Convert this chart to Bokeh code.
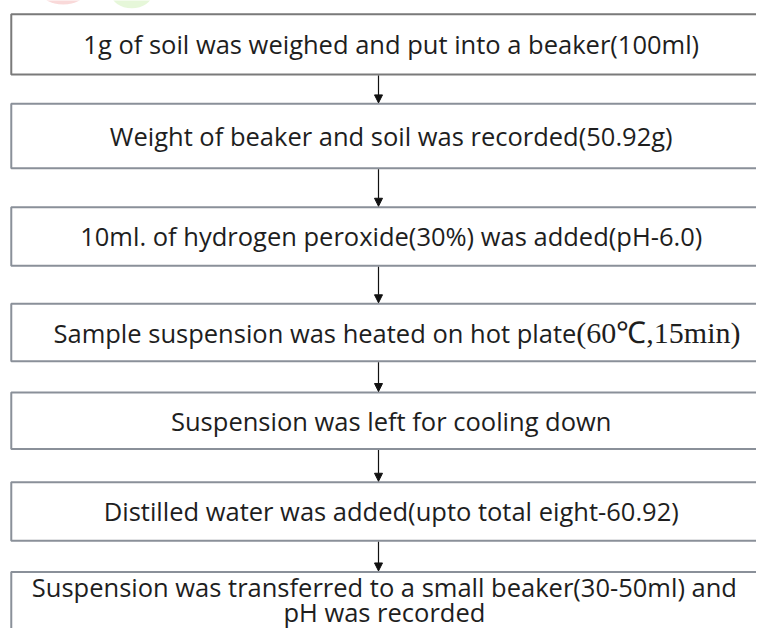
from bokeh.plotting import figure
from bokeh.models import Range1d, Arrow, NormalHead, ColumnDataSource
from bokeh.core.properties import value
from bokeh.embed import file_html
from bokeh.resources import INLINE

# ---- data: the steps of the procedure ----
steps = [
    "1g of soil was weighed and put into a beaker(100ml)",
    "Weight of beaker and soil was recorded(50.92g)",
    "10ml. of hydrogen peroxide(30%) was added(pH-6.0)",
    "Sample suspension was heated on hot plate",
    "Suspension was left for cooling down",
    "Distilled water was added(upto total eight-60.92)",
    "Suspension was transferred to a small beaker(30-50ml) and",
]
step4_suffix = "(60\u2103,15min)"
step7_line2 = "pH was recorded"

# ---- layout (reference pixel space) ----
W, H = 772, 644
box_left, box_right = 11, 800
box_top = [14, 106, 212, 311, 402, 494, 586]
box_bot = [76, 172, 272, 370, 460, 554, 680]
box_col = ["#7a7a7a", "#8a9099", "#8a9099", "#8a9099", "#8a9099", "#8a9099", "#8a9099"]
arrow_x = 386

p = figure(width=756, height=628, output_backend="svg", toolbar_location=None,
           x_range=Range1d(0, W), y_range=Range1d(H, 0), min_border=0)
p.axis.visible = False
p.grid.visible = False
p.outline_line_color = None
p.background_fill_color = "white"
p.border_fill_color = "white"

# faint watermark remnants at the top
p.ellipse(x=[64, 134], y=[-9, -7], width=[46, 42], height=[26, 30],
          fill_color=["#f8d0d0", "#e0f5cf"], fill_alpha=0.8, line_color=None)

src = ColumnDataSource(dict(left=[box_left] * len(steps), right=[box_right] * len(steps),
                            top=box_top, bottom=box_bot, col=box_col))
p.quad(left="left", right="right", top="top", bottom="bottom", source=src,
       fill_color="white", line_color="col", line_width=2)

# arrows
for i in range(len(steps) - 1):
    p.add_layout(Arrow(end=NormalHead(size=8, fill_color="#111111", line_color="#111111"),
                       x_start=arrow_x, y_start=box_bot[i] + 1,
                       x_end=arrow_x, y_end=box_top[i + 1] - 1,
                       line_color="#111111", line_width=1.2))

font = value("Open Sans")
fs = "25.5px"
tc = "#1e1e1e"
cx = 399
ys = [(box_top[i] + box_bot[i]) / 2 for i in range(6)]
# simple single-line steps
idx = [0, 1, 2, 4, 5]
p.text(x=[cx] * len(idx), y=[ys[i] for i in idx], text=[steps[i] for i in idx],
       text_font=font, text_font_size=fs, text_color=tc,
       text_align="center", text_baseline="middle")
# step 4: sans part + serif suffix
split_x = 588
p.text(x=[split_x], y=[ys[3]], text=[steps[3]], text_font=font, text_font_size=fs,
       text_color=tc, text_align="right", text_baseline="middle")
p.text(x=[split_x], y=[ys[3]], text=[step4_suffix], text_font=value("Liberation Serif"),
       text_font_size="30px", text_color=tc, text_align="left", text_baseline="middle")
# step 7: two lines
p.text(x=[392, 392], y=[601, 627], text=[steps[6], step7_line2], text_font=font,
       text_font_size=fs, text_color=tc, text_align="center", text_baseline="middle")

open("out.html", "w").write(file_html(p, INLINE))
